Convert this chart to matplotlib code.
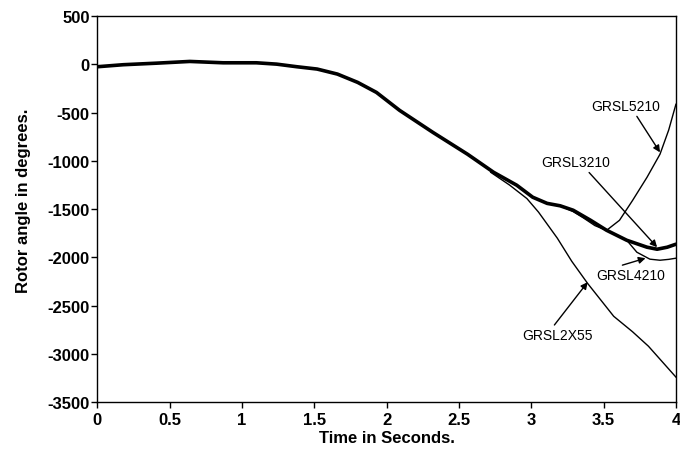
import matplotlib
matplotlib.use("Agg")
import matplotlib.pyplot as plt

plt.rcParams["font.family"] = ["Liberation Sans", "DejaVu Sans"]
plt.rcParams["axes.unicode_minus"] = False

# common trajectory (drawn heavy) -- GRSL3210
t_main = [0.00, 0.18, 0.41, 0.64, 0.87, 1.10, 1.24, 1.38, 1.52, 1.66, 1.80, 1.93,
          2.09, 2.32, 2.56, 2.74, 2.90, 3.01, 3.11, 3.20, 3.29, 3.41, 3.52, 3.66,
          3.80, 3.87, 3.94, 4.00]
a_main = [-24, -3, 13, 31, 17, 17, 3, -24, -48, -100, -186, -290,
          -476, -704, -931, -1118, -1252, -1376, -1440, -1465, -1511, -1615, -1718, -1822,
          -1894, -1915, -1894, -1863]

# branches that leave the common trajectory
t_2x55 = [2.72, 2.85, 2.97, 3.05, 3.18, 3.28, 3.39, 3.57, 3.70, 3.81, 4.00]
a_2x55 = [-1118, -1250, -1390, -1530, -1800, -2040, -2270, -2610, -2770, -2920, -3240]

t_4210 = [3.66, 3.73, 3.82, 3.89, 3.95, 4.00]
a_4210 = [-1822, -1946, -2018, -2029, -2020, -2008]

t_5210 = [3.20, 3.29, 3.36, 3.44, 3.52, 3.61, 3.70, 3.80, 3.89, 3.95, 4.00]
a_5210 = [-1465, -1525, -1590, -1670, -1720, -1615, -1410, -1170, -930, -680, -413]

# labels: text, text position, arrow start, arrow tip
labels = ["GRSL5210", "GRSL3210", "GRSL4210", "GRSL2X55"]
label_xy = [(3.65, -434), (3.31, -1014), (3.69, -2184), (3.18, -2805)]
arrow_from = [(3.73, -538), (3.40, -1120), (3.63, -2080), (3.16, -2700)]
arrow_to = [(3.89, -911), (3.87, -1894), (3.79, -2008), (3.39, -2256)]

fig = plt.figure(figsize=(6.8, 4.52), dpi=100)
ax = fig.add_axes([0.143, 0.108, 0.851, 0.854])

ax.plot(t_main, a_main, color="black", lw=2.6, solid_capstyle="round", zorder=3)
for tt, aa in [(t_2x55, a_2x55), (t_4210, a_4210), (t_5210, a_5210)]:
    ax.plot(tt, aa, color="black", lw=1.0, zorder=2)

for txt, xy, p0, p1 in zip(labels, label_xy, arrow_from, arrow_to):
    ax.text(xy[0], xy[1], txt, fontsize=10, ha="center", va="center")
    ax.annotate("", xy=p1, xytext=p0,
                arrowprops=dict(arrowstyle="-|>", color="black", lw=1.0,
                                mutation_scale=10, shrinkA=0, shrinkB=0))

ax.set_xlim(0, 4)
ax.set_ylim(-3500, 500)
ax.set_xticks([0, 0.5, 1, 1.5, 2, 2.5, 3, 3.5, 4])
ax.set_xticklabels(["0", "0.5", "1", "1.5", "2", "2.5", "3", "3.5", "4"])
ax.set_yticks(range(-3500, 501, 500))
ax.tick_params(direction="out", length=4, width=1.0, labelsize=12)
ax.tick_params(axis="x", pad=3)
ax.tick_params(axis="y", pad=1.5)
for lab in ax.get_xticklabels() + ax.get_yticklabels():
    lab.set_fontweight("bold")
for s in ax.spines.values():
    s.set_linewidth(1.0)

ax.set_xlabel("Time in Seconds.", fontsize=12, fontweight="bold")
ax.set_ylabel("Rotor angle in degrees.", fontsize=12, fontweight="bold")
ax.xaxis.set_label_coords(0.5, -0.091)
ax.yaxis.set_label_coords(-0.128, 0.523)
ax.xaxis.label.set_va("center")
ax.yaxis.label.set_va("center")

fig.savefig("out.png", dpi=100, facecolor="white")
